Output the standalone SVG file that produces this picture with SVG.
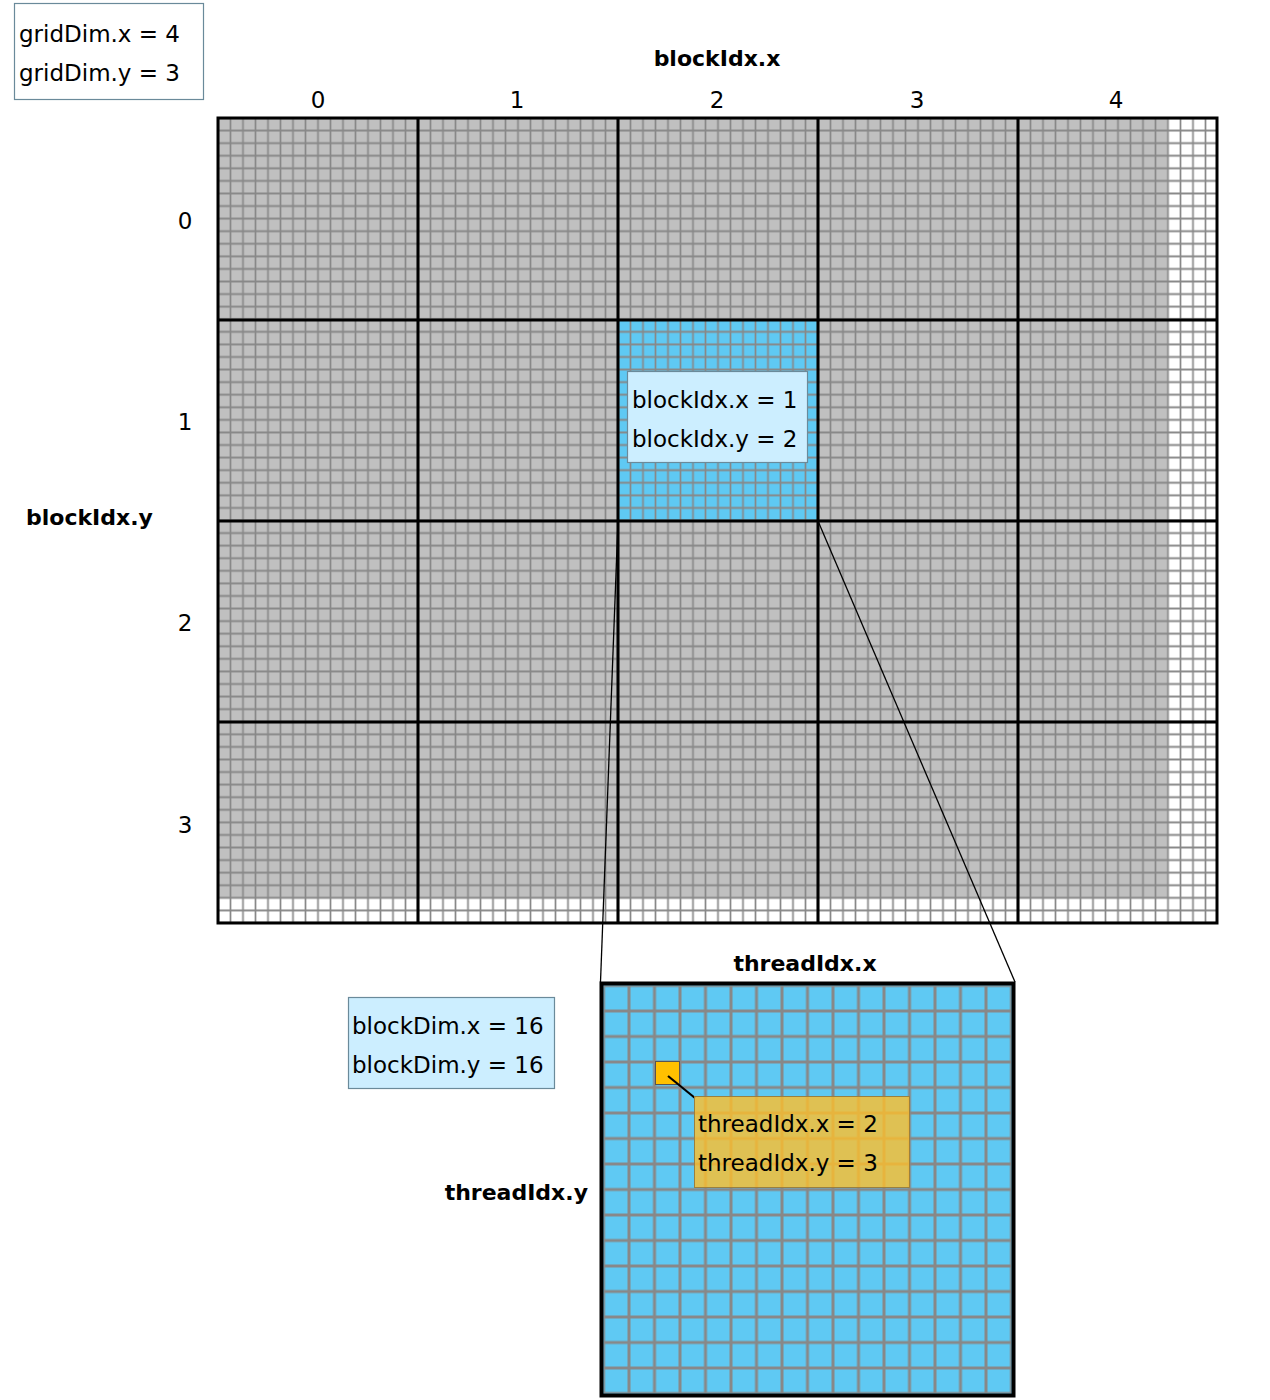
<svg xmlns="http://www.w3.org/2000/svg" width="1270" height="1400" viewBox="0 0 1270 1400">
<style>
.t{font-family:"DejaVu Sans","Verdana",sans-serif;font-size:23px;fill:#000}
.b{font-family:"DejaVu Sans","Verdana",sans-serif;font-size:22px;font-weight:bold;fill:#000}
.c{text-anchor:middle}
.info{fill:#CCEEFF;stroke:#6a8a9a;stroke-width:1.2}
.thick{stroke:#000;stroke-width:3;fill:none}
.conn{stroke:#000;stroke-width:1.3;fill:none}
</style>
<defs>
<pattern id="fine" patternUnits="userSpaceOnUse" x="211.75" y="111.71" width="12.5" height="12.578">
<path d="M6.25 0V12.578M0 6.289H12.5" stroke="#888" stroke-width="1.7" fill="none"/>
</pattern>
<pattern id="coarse" patternUnits="userSpaceOnUse" x="590.75" y="972.75" width="25.5" height="25.5">
<path d="M12.75 0V25.5M0 12.75H25.5" stroke="#888" stroke-width="3" fill="none"/>
</pattern>
</defs>
<rect width="1270" height="1400" fill="#fff"/>

<g id="gridDim">
<rect x="14.5" y="3.5" width="189" height="96" fill="#fff" stroke="#6a8a9a" stroke-width="1.2"/>
<text class="t" x="19" y="42">gridDim.x = 4</text>
<text class="t" x="19" y="81">gridDim.y = 3</text>
</g>

<g id="axis-labels">
<text class="b c" x="717" y="66">blockIdx.x</text>
<text class="t c" x="318" y="108">0</text>
<text class="t c" x="517" y="108">1</text>
<text class="t c" x="717" y="108">2</text>
<text class="t c" x="917" y="108">3</text>
<text class="t c" x="1116" y="108">4</text>
<text class="b" x="26" y="525">blockIdx.y</text>
<text class="t c" x="185" y="229">0</text>
<text class="t c" x="185" y="430">1</text>
<text class="t c" x="185" y="631">2</text>
<text class="t c" x="185" y="833">3</text>
</g>

<g id="grid">
<rect x="218" y="118" width="999" height="805" fill="#fff"/>
<rect x="218" y="118" width="950" height="780" fill="#C0C0C0"/>
<rect id="block-highlight" x="618" y="320" width="200" height="201" fill="#5FC9F3"/>
<rect x="218" y="118" width="999" height="805" fill="url(#fine)"/>
<path class="thick" d="M418 118V923M618 118V923M818 118V923M1018 118V923M218 320H1217M218 521H1217M218 722H1217"/>
<rect x="218" y="118" width="999" height="805" class="thick"/>
</g>

<g id="blockIdx">
<rect x="627.5" y="371.5" width="180" height="91" class="info"/>
<text class="t" x="632" y="408">blockIdx.x = 1</text>
<text class="t" x="632" y="447">blockIdx.y = 2</text>
</g>

<g id="block">
<text class="b c" x="805" y="971">threadIdx.x</text>
<text class="b" x="588" y="1200" text-anchor="end">threadIdx.y</text>
<rect x="601.5" y="983.5" width="412" height="412" fill="#5FC9F3"/>
<rect x="603.5" y="985.5" width="408" height="408" fill="url(#coarse)"/>
<rect x="601.5" y="983.5" width="412" height="412" fill="none" stroke="#000" stroke-width="4"/>
</g>

<g id="thread">
<rect x="655.5" y="1061.5" width="24" height="23" fill="#FFC000" stroke="#555" stroke-width="1"/>
</g>

<g id="blockDim">
<rect x="348.5" y="997.5" width="206" height="91" class="info"/>
<text class="t" x="352" y="1034">blockDim.x = 16</text>
<text class="t" x="352" y="1073">blockDim.y = 16</text>
</g>

<g id="connectors">
<line class="conn" x1="618" y1="521" x2="600.5" y2="982"/>
<line class="conn" x1="818" y1="521" x2="1015" y2="982"/>
<line x1="668" y1="1076" x2="695" y2="1098" stroke="#000" stroke-width="2.2"/>
</g>

<g id="threadIdx">
<rect x="694.5" y="1096.5" width="215" height="91" fill="#FFBF2A" fill-opacity="0.8" stroke="#9a8040" stroke-width="1"/>
<text class="t" x="698" y="1132">threadIdx.x = 2</text>
<text class="t" x="698" y="1171">threadIdx.y = 3</text>
</g>
</svg>
